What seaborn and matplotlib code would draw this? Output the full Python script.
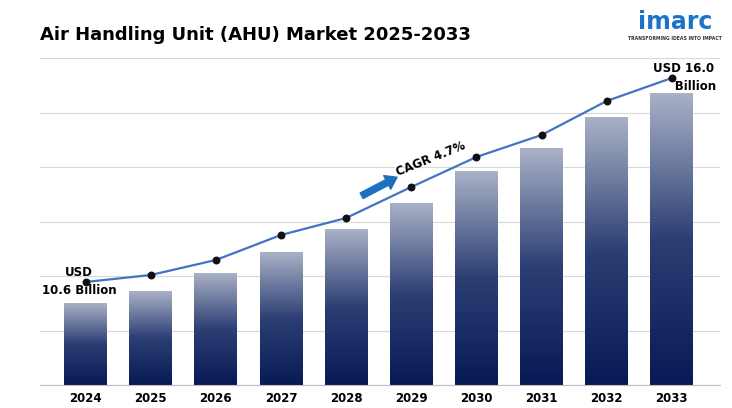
import numpy as np
import matplotlib.pyplot as plt
import seaborn as sns
import pandas as pd
from matplotlib.colors import LinearSegmentedColormap

years = ['2024', '2025', '2026', '2027', '2028', '2029', '2030', '2031', '2032', '2033']
bar_vals = [82, 94, 112, 133, 156, 182, 214, 237, 268, 292]
line_vals = [103, 110, 125, 150, 167, 198, 228, 250, 284, 307]

df = pd.DataFrame({'year': years, 'bar': bar_vals, 'line': line_vals})

fig = plt.figure(figsize=(7.32, 4.08), dpi=100)
ax = fig.add_axes([40 / 732, 23 / 408, 680 / 732, 327 / 408])

sns.barplot(data=df, x='year', y='bar', ax=ax, width=0.66, color='#5a6a90', saturation=1)

# gradient fill clipped to each bar
grad = np.linspace(0, 1, 256).reshape(-1, 1)
cmap = LinearSegmentedColormap.from_list('g', ['#071a55', '#2c3f74', '#a9b1c6'])
for p in ax.patches:
    x0, y0, w, h = p.get_x(), p.get_y(), p.get_width(), p.get_height()
    im = ax.imshow(grad, cmap=cmap, extent=[x0, x0 + w, y0, y0 + h], origin='lower',
                   aspect='auto', zorder=2)
    im.set_clip_path(p)
    p.set_facecolor('none')

ax.plot(range(len(years)), df['line'], color='#4472c4', lw=1.6, zorder=3)
ax.scatter(range(len(years)), df['line'], color='#111111', s=22, zorder=4)

ax.set_xlim(-0.7, 9.74)
ax.set_ylim(0, 327)
ax.set_yticks(np.arange(0, 328, 54.5))
ax.yaxis.grid(True, color='#d9d9d9', lw=0.8)
ax.set_axisbelow(True)
ax.tick_params(axis='y', left=False, labelleft=False)
ax.tick_params(axis='x', length=0, labelsize=8.5, pad=5)
for t in ax.get_xticklabels():
    t.set_fontweight('bold')
ax.set_xlabel('')
ax.set_ylabel('')
for s in ['top', 'right', 'left']:
    ax.spines[s].set_visible(False)
ax.spines['bottom'].set_color('#bfbfbf')

ax.text(-0.1, 104, 'USD\n10.6 Billion', ha='center', va='center',
        fontsize=8.5, fontweight='bold', linespacing=1.5)
ax.text(9.18, 308, 'USD 16.0\n      Billion', ha='center', va='center',
        fontsize=8.5, fontweight='bold', linespacing=1.5)

ax.annotate('', xy=(4.82, 209), xytext=(4.2, 188),
            arrowprops=dict(arrowstyle='simple,head_width=1.1,head_length=0.8,tail_width=0.45',
                            color='#1f6fc0'))
ax.text(5.3, 226, 'CAGR 4.7%', rotation=22, fontsize=8.5, fontweight='bold',
        ha='center', va='center')

fig.text(40 / 732, 1 - 35 / 408, 'Air Handling Unit (AHU) Market 2025-2033',
         fontsize=13, fontweight='bold', va='center')
fig.text(675 / 732, 1 - 22 / 408, 'imarc', fontsize=17, fontweight='bold',
         color='#1a73c8', ha='center', va='center')
fig.text(675 / 732, 1 - 38 / 408, 'TRANSFORMING IDEAS INTO IMPACT', fontsize=3.3,
         fontweight='bold', color='#333333', ha='center', va='center')

fig.savefig('out.png', dpi=100)
